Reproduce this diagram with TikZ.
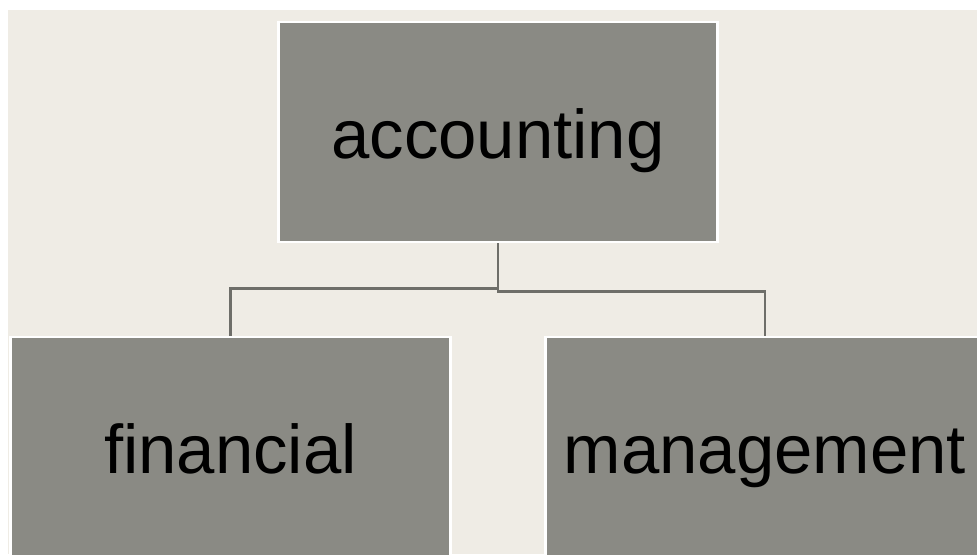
\documentclass[tikz,border=0pt]{standalone}
\usepackage{fontspec}
\setmainfont{Liberation Sans}
\usetikzlibrary{positioning}
\definecolor{paper}{HTML}{EFECE5}
\definecolor{boxgray}{HTML}{8A8A84}
\definecolor{linegray}{HTML}{6E6E69}
\begin{document}
\begin{tikzpicture}[
  x=0.025cm, y=-0.025cm,
  unit/.style={draw=white, line width=2pt, fill=boxgray, minimum width=10.98cm, minimum height=5.5cm,
    inner sep=0pt, text height=43pt, text depth=6pt, font=\fontsize{49}{56}\selectfont},
  conn/.style={draw=linegray, line width=1.6pt}
]
\useasboundingbox (0,0) rectangle (977,554);
\clip (0,0) rectangle (977,554);
\fill[white] (0,0) rectangle (977,554);
\fill[paper] (8,10) rectangle (977,554);

\node[unit] (acc) at (498,132) {accounting};
\node[unit] (fin) at (230.5,447) {financial};
\node[unit] (mgt) at (765,447) {management};

\draw[conn] (acc.south) -- ++(0,45) -| (fin.north);
\draw[conn] (acc.south) -- ++(0,48) -| (mgt.north);
\end{tikzpicture}
\end{document}
